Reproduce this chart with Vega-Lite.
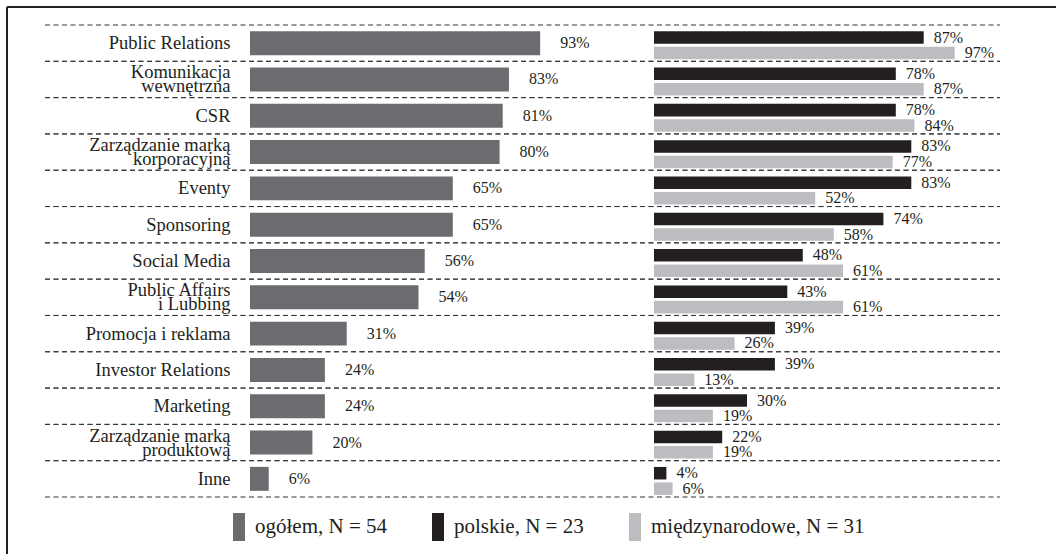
{
 "$schema": "https://vega.github.io/schema/vega-lite/v6.json",
 "width": 1049,
 "height": 547,
 "autosize": {"type": "none"},
 "padding": {"left": 7, "top": 7, "right": 0, "bottom": 0},
 "background": "white",
 "config": {"view": {"stroke": "#231f20", "strokeWidth": 2, "strokeDash": [1049, 3000]}, "font": "Liberation Serif"},
 "data": {"values": [
  {"cat": "Public Relations", "series": "ogółem, N = 54", "value": 0.93},
  {"cat": "Public Relations", "series": "polskie, N = 23", "value": 0.87},
  {"cat": "Public Relations", "series": "międzynarodowe, N = 31", "value": 0.97},
  {"cat": "Komunikacja\nwewnętrzna", "series": "ogółem, N = 54", "value": 0.83},
  {"cat": "Komunikacja\nwewnętrzna", "series": "polskie, N = 23", "value": 0.78},
  {"cat": "Komunikacja\nwewnętrzna", "series": "międzynarodowe, N = 31", "value": 0.87},
  {"cat": "CSR", "series": "ogółem, N = 54", "value": 0.81},
  {"cat": "CSR", "series": "polskie, N = 23", "value": 0.78},
  {"cat": "CSR", "series": "międzynarodowe, N = 31", "value": 0.84},
  {"cat": "Zarządzanie marką\nkorporacyjną", "series": "ogółem, N = 54", "value": 0.80},
  {"cat": "Zarządzanie marką\nkorporacyjną", "series": "polskie, N = 23", "value": 0.83},
  {"cat": "Zarządzanie marką\nkorporacyjną", "series": "międzynarodowe, N = 31", "value": 0.77},
  {"cat": "Eventy", "series": "ogółem, N = 54", "value": 0.65},
  {"cat": "Eventy", "series": "polskie, N = 23", "value": 0.83},
  {"cat": "Eventy", "series": "międzynarodowe, N = 31", "value": 0.52},
  {"cat": "Sponsoring", "series": "ogółem, N = 54", "value": 0.65},
  {"cat": "Sponsoring", "series": "polskie, N = 23", "value": 0.74},
  {"cat": "Sponsoring", "series": "międzynarodowe, N = 31", "value": 0.58},
  {"cat": "Social Media", "series": "ogółem, N = 54", "value": 0.56},
  {"cat": "Social Media", "series": "polskie, N = 23", "value": 0.48},
  {"cat": "Social Media", "series": "międzynarodowe, N = 31", "value": 0.61},
  {"cat": "Public Affairs\ni Lubbing", "series": "ogółem, N = 54", "value": 0.54},
  {"cat": "Public Affairs\ni Lubbing", "series": "polskie, N = 23", "value": 0.43},
  {"cat": "Public Affairs\ni Lubbing", "series": "międzynarodowe, N = 31", "value": 0.61},
  {"cat": "Promocja i reklama", "series": "ogółem, N = 54", "value": 0.31},
  {"cat": "Promocja i reklama", "series": "polskie, N = 23", "value": 0.39},
  {"cat": "Promocja i reklama", "series": "międzynarodowe, N = 31", "value": 0.26},
  {"cat": "Investor Relations", "series": "ogółem, N = 54", "value": 0.24},
  {"cat": "Investor Relations", "series": "polskie, N = 23", "value": 0.39},
  {"cat": "Investor Relations", "series": "międzynarodowe, N = 31", "value": 0.13},
  {"cat": "Marketing", "series": "ogółem, N = 54", "value": 0.24},
  {"cat": "Marketing", "series": "polskie, N = 23", "value": 0.30},
  {"cat": "Marketing", "series": "międzynarodowe, N = 31", "value": 0.19},
  {"cat": "Zarządzanie marką\nproduktową", "series": "ogółem, N = 54", "value": 0.20},
  {"cat": "Zarządzanie marką\nproduktową", "series": "polskie, N = 23", "value": 0.22},
  {"cat": "Zarządzanie marką\nproduktową", "series": "międzynarodowe, N = 31", "value": 0.19},
  {"cat": "Inne", "series": "ogółem, N = 54", "value": 0.06},
  {"cat": "Inne", "series": "polskie, N = 23", "value": 0.04},
  {"cat": "Inne", "series": "międzynarodowe, N = 31", "value": 0.06}
 ]},
 "resolve": {"scale": {"x": "independent"}},
 "layer": [
  {
   "transform": [{"filter": "datum.series === 'ogółem, N = 54'"}],
   "mark": {"type": "rule", "color": "#333333", "strokeWidth": 1, "strokeDash": [5, 3.5]},
   "encoding": {
    "y": {"field": "cat", "type": "nominal", "bandPosition": 0,
     "scale": {"domain": ["Public Relations", "Komunikacja\nwewnętrzna", "CSR", "Zarządzanie marką\nkorporacyjną", "Eventy", "Sponsoring", "Social Media", "Public Affairs\ni Lubbing", "Promocja i reklama", "Investor Relations", "Marketing", "Zarządzanie marką\nproduktową", "Inne"], "range": [18, 490], "paddingInner": 0, "paddingOuter": 0},
     "axis": {"title": null, "orient": "left", "offset": -223, "domain": false, "ticks": false, "tickSize": 0, "grid": false, "labelPadding": 0, "labelFont": "Liberation Serif", "labelFontSize": 18.5, "labelColor": "#231f20", "labelLimit": 0, "labelLineHeight": 14, "labelExpr": "split(datum.value, '\\n')", "labelOverlap": false, "labelBaseline": "middle", "labelOffset": {"condition": {"test": "indexof(datum.value, '\\n') >= 0", "value": -7}, "value": 0}}},
    "x": {"datum": 0, "type": "quantitative", "scale": {"domain": [0, 1], "range": [38, 993]}, "axis": null},
    "x2": {"datum": 1}
   }
  },
  {
   "transform": [{"filter": "datum.series === 'ogółem, N = 54'"}],
   "mark": {"type": "rule", "color": "#333333", "strokeWidth": 1, "strokeDash": [5, 3.5]},
   "encoding": {
    "y": {"field": "cat", "type": "nominal", "bandPosition": 1},
    "x": {"datum": 0, "type": "quantitative", "scale": {"domain": [0, 1], "range": [38, 993]}, "axis": null},
    "x2": {"datum": 1}
   }
  },
  {
   "mark": {"type": "rule", "color": "#231f20", "strokeWidth": 2},
   "encoding": {
    "x": {"datum": 0, "type": "quantitative", "scale": {"domain": [0, 1], "range": [0, 1049]}, "axis": null}
   }
  },
  {
   "transform": [{"filter": "datum.series === 'ogółem, N = 54'"}],
   "mark": {"type": "bar", "height": {"band": 0.66}},
   "encoding": {
    "y": {"field": "cat", "type": "nominal"},
    "x": {"field": "value", "type": "quantitative", "scale": {"domain": [0, 1], "range": [243, 555]}, "axis": null},
    "color": {"field": "series", "type": "nominal",
     "scale": {"domain": ["ogółem, N = 54", "polskie, N = 23", "międzynarodowe, N = 31"], "range": ["#6b6c70", "#231f20", "#bcbdc0"]},
     "legend": {"title": null, "orient": "none", "legendX": 218, "legendY": 506, "direction": "horizontal", "symbolType": "M-0.4286,-1H0.4286V1H-0.4286Z", "symbolSize": 784, "symbolStrokeWidth": 0, "labelFont": "Liberation Serif", "labelFontSize": 21, "labelColor": "#231f20", "labelOffset": 2, "columnPadding": 37, "labelLimit": 0, "padding": 0}}
   }
  },
  {
   "transform": [{"filter": "datum.series === 'ogółem, N = 54'"}],
   "mark": {"type": "text", "align": "left", "baseline": "middle", "dx": 20, "fontSize": 16, "color": "#231f20", "font": "Liberation Serif"},
   "encoding": {
    "y": {"field": "cat", "type": "nominal"},
    "x": {"field": "value", "type": "quantitative", "scale": {"domain": [0, 1], "range": [243, 555]}, "axis": null},
    "text": {"field": "value", "type": "quantitative", "format": ".0%"}
   }
  },
  {
   "transform": [{"filter": "datum.series !== 'ogółem, N = 54'"}],
   "mark": {"type": "bar"},
   "encoding": {
    "y": {"field": "cat", "type": "nominal"},
    "yOffset": {"field": "series", "type": "nominal", "scale": {"domain": ["polskie, N = 23", "międzynarodowe, N = 31"], "paddingInner": 0.19, "paddingOuter": 0.27, "align": 0.75}},
    "x": {"field": "value", "type": "quantitative", "scale": {"domain": [0, 1], "range": [647, 957]}, "axis": null},
    "color": {"field": "series", "type": "nominal",
     "scale": {"domain": ["ogółem, N = 54", "polskie, N = 23", "międzynarodowe, N = 31"], "range": ["#6b6c70", "#231f20", "#bcbdc0"]},
     "legend": {"title": null, "orient": "none", "legendX": 218, "legendY": 506, "direction": "horizontal", "symbolType": "M-0.4286,-1H0.4286V1H-0.4286Z", "symbolSize": 784, "symbolStrokeWidth": 0, "labelFont": "Liberation Serif", "labelFontSize": 21, "labelColor": "#231f20", "labelOffset": 2, "columnPadding": 37, "labelLimit": 0, "padding": 0}}
   }
  },
  {
   "transform": [{"filter": "datum.series !== 'ogółem, N = 54'"}],
   "mark": {"type": "text", "align": "left", "baseline": "middle", "dx": 10, "fontSize": 16, "color": "#231f20", "font": "Liberation Serif"},
   "encoding": {
    "y": {"field": "cat", "type": "nominal"},
    "yOffset": {"field": "series", "type": "nominal", "scale": {"domain": ["polskie, N = 23", "międzynarodowe, N = 31"], "paddingInner": 0.19, "paddingOuter": 0.27, "align": 0.75}},
    "x": {"field": "value", "type": "quantitative", "scale": {"domain": [0, 1], "range": [647, 957]}, "axis": null},
    "text": {"field": "value", "type": "quantitative", "format": ".0%"}
   }
  }
 ]
}
